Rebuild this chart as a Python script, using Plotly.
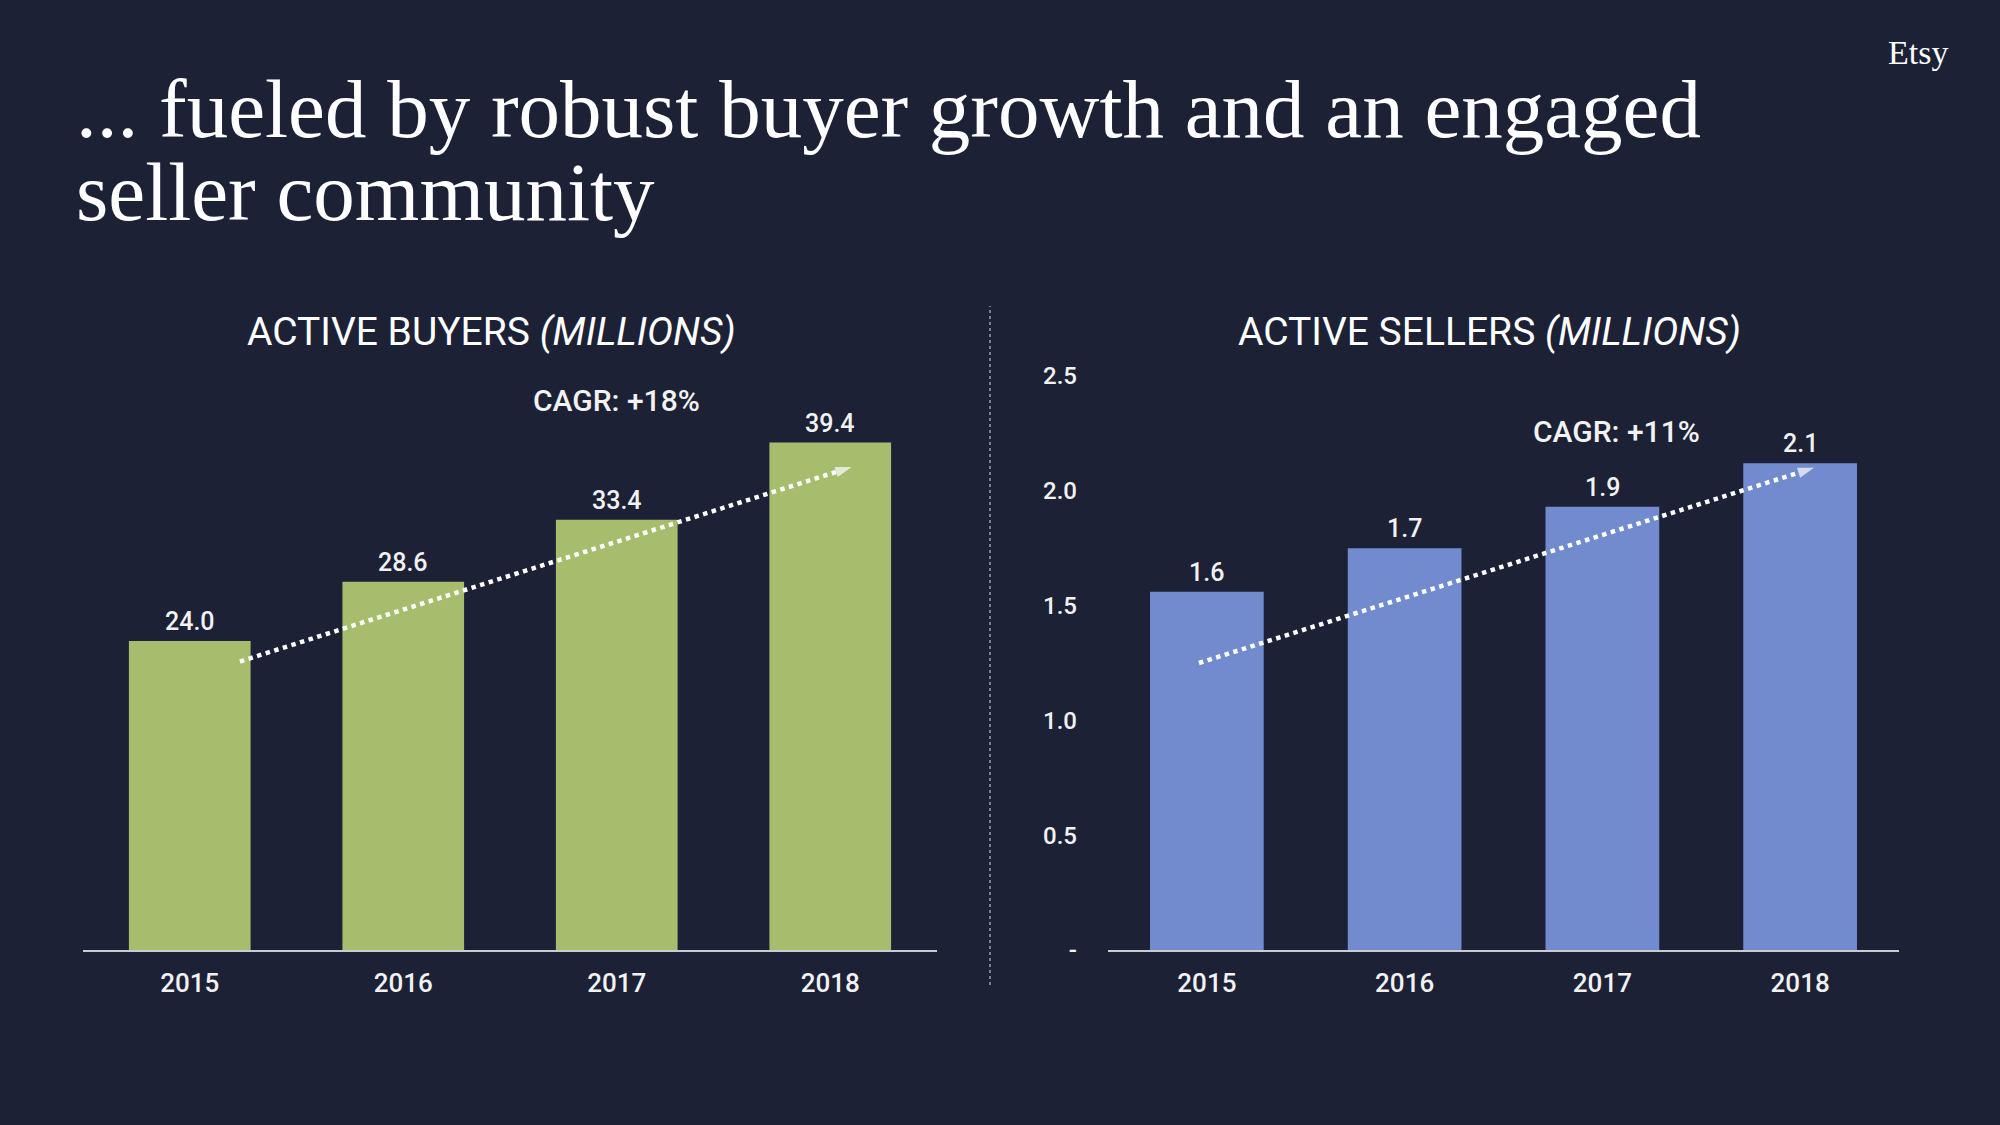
import plotly.graph_objects as go

# ---- data ----
years = ["2015", "2016", "2017", "2018"]
buyers = [24.0, 28.6, 33.4, 39.4]
buyer_labels = ["24.0", "28.6", "33.4", "39.4"]
sellers = [1.56, 1.75, 1.93, 2.12]
seller_labels = ["1.6", "1.7", "1.9", "2.1"]
seller_ticks = [0, 0.5, 1.0, 1.5, 2.0, 2.5]
seller_ticktext = ["-", "0.5", "1.0", "1.5", "2.0", "2.5"]
# trend arrows (start/end in category index / value units)
buyer_trend_x = [0.235, 3.1]
buyer_trend_y = [22.4, 37.5]
seller_trend_x = [-0.04, 3.07]
seller_trend_y = [1.25, 2.10]

BG = "#1d2136"
GREEN = "#a6bd6e"
BLUE = "#728bcf"
WHITE = "#ffffff"
TXT = "#f2f2f2"
FONT = "Roboto"

fig = go.Figure()

fig.add_trace(go.Bar(x=list(range(4)), y=buyers, marker=dict(color=GREEN, line=dict(width=0)),
                     width=0.57, xaxis="x", yaxis="y", hoverinfo="skip"))
fig.add_trace(go.Bar(x=list(range(4)), y=sellers, marker=dict(color=BLUE, line=dict(width=0)),
                     width=0.575, xaxis="x2", yaxis="y2", hoverinfo="skip"))

for tx, ty, xa, ya in [(buyer_trend_x, buyer_trend_y, "x", "y"),
                       (seller_trend_x, seller_trend_y, "x2", "y2")]:
    fig.add_trace(go.Scatter(x=tx, y=ty, mode="lines+markers", xaxis=xa, yaxis=ya,
                             line=dict(color=WHITE, width=4.5, dash="dot"),
                             marker=dict(symbol=["circle", "arrow"], size=[0, 17], color=WHITE,
                                         angleref="previous", line=dict(width=0)),
                             hoverinfo="skip", cliponaxis=False))

LBL = dict(family=FONT, size=25, color=TXT, weight=500)
annotations = []
for i, (v, t) in enumerate(zip(buyers, buyer_labels)):
    annotations.append(dict(x=i, y=v, xref="x", yref="y", text=t, showarrow=False,
                            xanchor="center", yanchor="bottom", yshift=3, font=LBL))
for i, (v, t) in enumerate(zip(sellers, seller_labels)):
    annotations.append(dict(x=i, y=v, xref="x2", yref="y2", text=t, showarrow=False,
                            xanchor="center", yanchor="bottom", yshift=3, font=LBL))

CAGR = dict(family=FONT, size=30, color=TXT, weight=500)
annotations += [
    dict(x=2.0, y=42.65, xref="x", yref="y", text="CAGR: +18%", showarrow=False,
         xanchor="center", yanchor="middle", font=CAGR),
    dict(x=2.07, y=2.26, xref="x2", yref="y2", text="CAGR: +11%", showarrow=False,
         xanchor="center", yanchor="middle", font=CAGR),
    dict(x=491 / 2000, y=1 - 332 / 1125, xref="paper", yref="paper", text="ACTIVE BUYERS <i>(MILLIONS)</i>",
         showarrow=False, xanchor="center", yanchor="middle", font=dict(family=FONT, size=39, color=WHITE)),
    dict(x=1489 / 2000, y=1 - 332 / 1125, xref="paper", yref="paper", text="ACTIVE SELLERS <i>(MILLIONS)</i>",
         showarrow=False, xanchor="center", yanchor="middle", font=dict(family=FONT, size=39, color=WHITE)),
    dict(x=74 / 2000, y=1 - 157 / 1125, xref="paper", yref="paper", text="... fueled by robust buyer growth and an engaged",
         showarrow=False, xanchor="left", yanchor="bottom", font=dict(family="Liberation Serif", size=83, color=WHITE)),
    dict(x=74 / 2000, y=1 - 240 / 1125, xref="paper", yref="paper", text="seller community",
         showarrow=False, xanchor="left", yanchor="bottom", font=dict(family="Liberation Serif", size=83, color=WHITE)),
    dict(x=1950 / 2000, y=1 - 53 / 1125, xref="paper", yref="paper", text="Etsy",
         showarrow=False, xanchor="right", yanchor="middle", font=dict(family="Liberation Serif", size=34, color=WHITE)),
]

shapes = [dict(type="line", xref="paper", yref="paper", x0=990 / 2000, x1=990 / 2000,
               y0=1 - 985 / 1125, y1=1 - 306 / 1125, line=dict(color="#9aa0b0", width=1.5, dash="dot"))]

ydom = [1 - 950 / 1125, 1 - 376 / 1125]
axis_common = dict(showgrid=False, zeroline=False)
TICK = dict(family=FONT, size=26, color=TXT, weight=500)
fig.update_layout(
    width=2000, height=1125, margin=dict(l=0, r=0, t=0, b=0, pad=0, autoexpand=False),
    paper_bgcolor=BG, plot_bgcolor=BG, showlegend=False,
    xaxis=dict(domain=[83 / 2000, 937 / 2000], range=[-0.5, 3.5], tickvals=list(range(4)), ticktext=years,
               showline=True, linecolor="#c9cbd2", linewidth=2, ticks="", ticklabelstandoff=9,
               tickfont=TICK, automargin=False, **axis_common),
    yaxis=dict(domain=ydom, range=[0, 44.57], visible=False, automargin=False, **axis_common),
    xaxis2=dict(domain=[1108 / 2000, 1899 / 2000], range=[-0.5, 3.5], tickvals=list(range(4)), ticktext=years,
                showline=True, linecolor="#c9cbd2", linewidth=2, ticks="", ticklabelstandoff=9,
                anchor="y2", tickfont=TICK, automargin=False, **axis_common),
    yaxis2=dict(domain=ydom, range=[0, 2.5], anchor="x2", tickvals=seller_ticks, ticktext=seller_ticktext,
                showline=False, ticks="", ticklabelstandoff=30, automargin=False,
                tickfont=dict(family=FONT, size=24, color=TXT, weight=500), **axis_common),
    annotations=annotations, shapes=shapes,
)

post = (
    "var h=document.documentElement, b=document.body;"
    "h.style.margin='0';h.style.padding='0';h.style.overflow='hidden';h.style.height='1125px';"
    "b.style.margin='0';b.style.padding='0';b.style.overflow='hidden';b.style.height='1125px';"
    "b.style.background='%s';" % BG
)
fig.write_html("out.html", config={"displayModeBar": False}, post_script=post)
